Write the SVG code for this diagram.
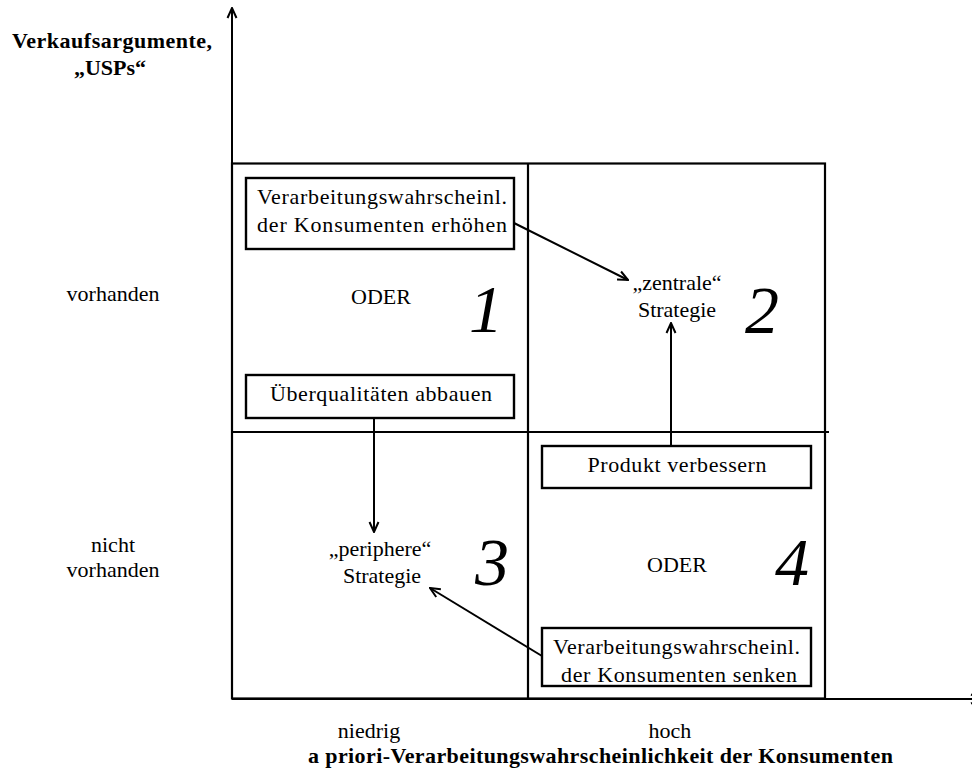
<svg xmlns="http://www.w3.org/2000/svg" width="972" height="773" viewBox="0 0 972 773">
<style>
text{font-family:"Liberation Serif","Times New Roman",serif;font-size:22px;fill:#000}
.b{font-weight:bold}
.n{font-style:italic;font-size:68px}
.box{fill:#fff;stroke:#000;stroke-width:2.4}
.ln{fill:none;stroke:#000;stroke-width:2.2}
.ar{fill:none;stroke:#000;stroke-width:2;marker-end:url(#ah)}
</style>
<defs>
<marker id="ah" viewBox="0 0 12 12" refX="11" refY="6" markerWidth="12" markerHeight="12" markerUnits="userSpaceOnUse" orient="auto">
<path d="M1,1.5 L11,6 L1,10.5" fill="none" stroke="#000" stroke-width="2"/>
</marker>
</defs>
<g id="axes">
<line class="ar" x1="232" y1="698" x2="232" y2="8"/>
<line class="ar" x1="232" y1="699" x2="981" y2="699"/>
<text class="b" x="112" y="48" text-anchor="middle" textLength="200">Verkaufsargumente,</text>
<text class="b" x="110" y="75" text-anchor="middle">„USPs“</text>
<text x="113" y="301" text-anchor="middle">vorhanden</text>
<text x="113" y="552" text-anchor="middle">nicht</text>
<text x="113" y="577" text-anchor="middle">vorhanden</text>
<text x="369" y="738" text-anchor="middle">niedrig</text>
<text x="670" y="738" text-anchor="middle">hoch</text>
<text class="b" x="308" y="763" textLength="585">a priori-Verarbeitungswahrscheinlichkeit der Konsumenten</text>
</g>
<g id="grid">
<rect class="ln" x="232" y="163.5" width="593" height="535"/>
<line class="ln" x1="528" y1="163.5" x2="528" y2="698"/>
<line class="ln" x1="232" y1="432" x2="829" y2="432"/>
</g>
<g id="connectors">
<line class="ar" x1="514" y1="223" x2="628" y2="280"/>
<line class="ar" x1="374" y1="418" x2="374" y2="532"/>
<line class="ar" x1="671" y1="446" x2="671" y2="323"/>
<line class="ar" x1="542" y1="656" x2="430" y2="588"/>
</g>
<g id="q1">
<text x="381" y="304" text-anchor="middle">ODER</text>
<text class="n" x="486" y="332" text-anchor="middle">1</text>
</g>
<g id="box-erhoehen">
<rect class="box" x="246" y="178" width="268" height="71"/>
<text x="257" y="204" textLength="250">Verarbeitungswahrscheinl.</text>
<text x="257" y="232" textLength="250">der Konsumenten erhöhen</text>
</g>
<g id="box-ueberqual">
<rect class="box" x="246" y="375" width="268" height="43"/>
<text x="381" y="401" text-anchor="middle" textLength="222">Überqualitäten abbauen</text>
</g>
<g id="q2">
<text x="677" y="290" text-anchor="middle">„zentrale“</text>
<text x="677" y="317" text-anchor="middle">Strategie</text>
<text class="n" x="762" y="333" text-anchor="middle">2</text>
</g>
<g id="q3">
<text x="380" y="556" text-anchor="middle">„periphere“</text>
<text x="382" y="583" text-anchor="middle">Strategie</text>
<text class="n" x="492" y="585" text-anchor="middle">3</text>
</g>
<g id="q4">
<text x="677" y="572" text-anchor="middle">ODER</text>
<text class="n" x="792" y="585" text-anchor="middle">4</text>
</g>
<g id="box-produkt">
<rect class="box" x="542" y="446" width="269" height="42"/>
<text x="677" y="472" text-anchor="middle" textLength="179">Produkt verbessern</text>
</g>
<g id="box-senken">
<rect class="box" x="542" y="628" width="269" height="58"/>
<text x="553" y="654" textLength="247">Verarbeitungswahrscheinl.</text>
<text x="561" y="682" textLength="236">der Konsumenten senken</text>
</g>
</svg>
